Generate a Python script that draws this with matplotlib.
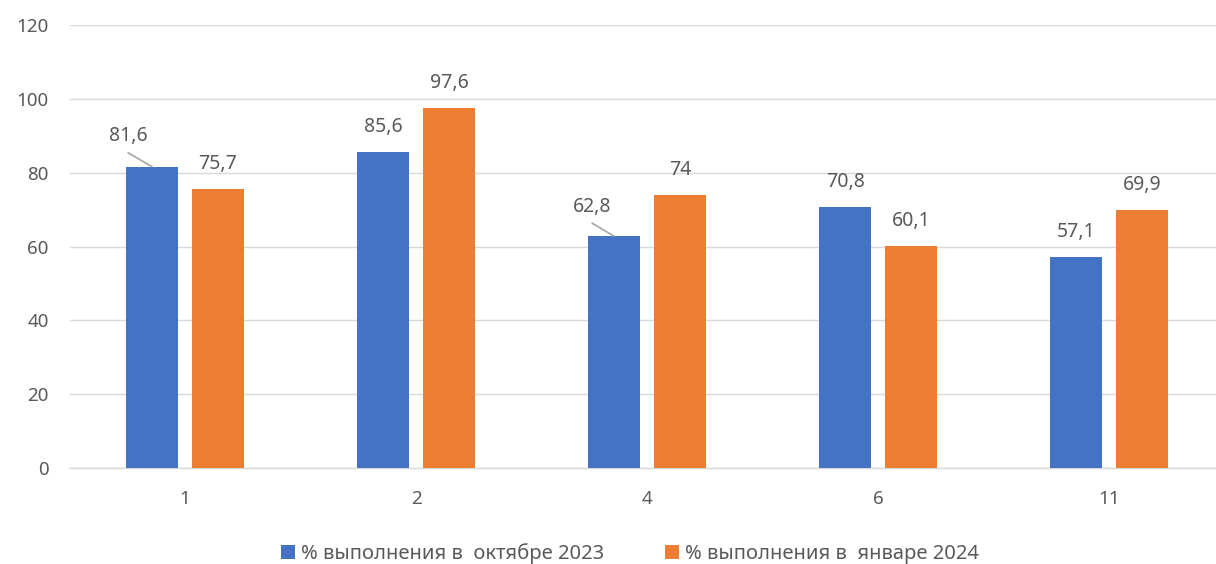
import matplotlib
matplotlib.use("Agg")
import matplotlib.pyplot as plt
import numpy as np

categories = ["1", "2", "4", "6", "11"]
oct_2023 = [81.6, 85.6, 62.8, 70.8, 57.1]
jan_2024 = [75.7, 97.6, 74, 60.1, 69.9]
series_names = ["% выполнения в  октябре 2023", "% выполнения в  январе 2024"]
y_ticks = [0, 20, 40, 60, 80, 100, 120]

def fmt(v):
    s = ("%.1f" % v).rstrip("0").rstrip(".")
    return s.replace(".", ",")

plt.rcParams['font.family'] = ['Noto Sans', 'DejaVu Sans']
TXT = "#595959"
BLUE = "#4472C4"
ORANGE = "#ED7D31"

fig = plt.figure(figsize=(12.16, 5.64), dpi=100)
W, H = 1216, 564
left_px, right_px = 69.5, 1224.5
bottom_px, top_px = 96, 539
ax = fig.add_axes([left_px / W, bottom_px / H, (right_px - left_px) / W, (top_px - bottom_px) / H])

x = np.arange(len(categories))
bw = 0.225
off = 0.1425
b1 = ax.bar(x - off, oct_2023, bw, color=BLUE, zorder=3, label=series_names[0])
b2 = ax.bar(x + off, jan_2024, bw, color=ORANGE, zorder=3, label=series_names[1])

ax.set_xlim(-0.5, len(categories) - 0.5)
ax.set_ylim(0, 120)
ax.set_yticks(y_ticks)
ax.set_xticks(x)
ax.set_xticklabels(categories)
ax.tick_params(axis='both', length=0, labelsize=13.5, labelcolor=TXT)
ax.tick_params(axis='x', pad=16)
ax.tick_params(axis='y', pad=15)
ax.grid(axis='y', color="#D9D9D9", linewidth=1.0, zorder=0)
for s in ['top', 'right', 'left']:
    ax.spines[s].set_visible(False)
ax.spines['bottom'].set_color("#D9D9D9")
ax.spines['bottom'].set_linewidth(1.0)

# label offsets in pixels (dx, dy) relative to bar top centre
special = {(0, 0): (-24, 31, 14), (0, 2): (-22, 29, 13)}
for si, (vals, sign) in enumerate([(oct_2023, -1), (jan_2024, 1)]):
    for i, v in enumerate(vals):
        xc = x[i] + sign * off
        if (si, i) in special:
            dx, dy, ly = special[(si, i)]
            ax.annotate("", xy=(xc, v), xytext=(dx, ly), textcoords='offset pixels',
                        arrowprops=dict(arrowstyle='-', color="#A6A6A6", lw=1.2,
                                        shrinkA=0, shrinkB=0), zorder=4)
        else:
            dx, dy = 0, 25
        ax.annotate(fmt(v), xy=(xc, v), xytext=(dx, dy), textcoords='offset pixels',
                    ha='center', va='center', fontsize=14, color=TXT, zorder=5)

leg = fig.legend(handles=[b1, b2], labels=series_names, loc='center',
                 bbox_to_anchor=(630 / W, 1 - 554 / H), ncol=2, frameon=False,
                 fontsize=14.5, handlelength=0.7, handleheight=0.7, handletextpad=0.3,
                 columnspacing=3.0, labelcolor=TXT, borderaxespad=0, borderpad=0)

fig.savefig("out.png", dpi=100)
